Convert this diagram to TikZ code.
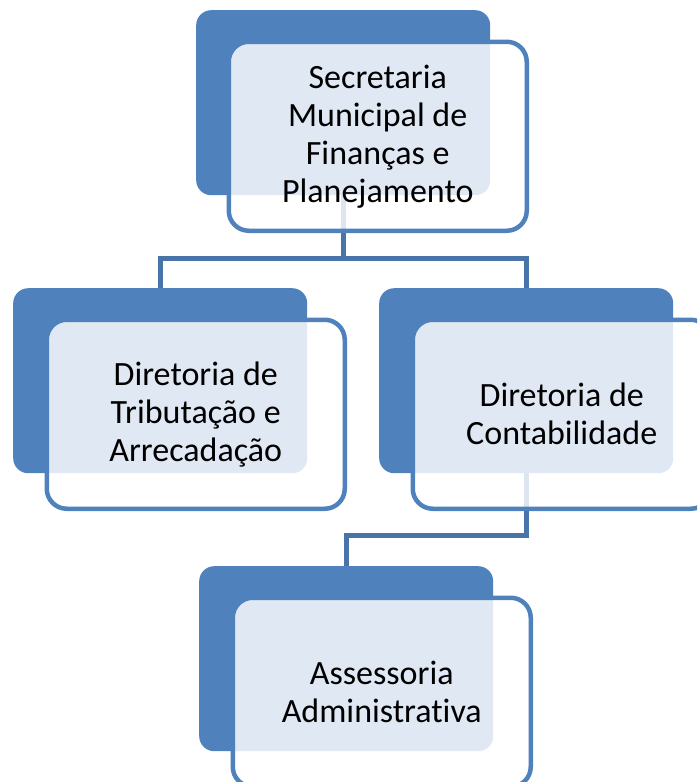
\documentclass[tikz,border=0pt]{standalone}
\usepackage{fontspec}
\setmainfont[Ligatures=NoCommon]{Carlito}
\definecolor{officeblue}{HTML}{4F81BD}
\definecolor{connblue}{HTML}{4874AA}
\begin{document}
\begin{tikzpicture}[x=1pt,y=-1pt,
  backbox/.style={fill=officeblue, draw=none, rounded corners=15pt, anchor=north west,
    minimum width=294pt, minimum height=185pt, inner sep=0pt},
  frontbox/.style={draw=officeblue, line width=4.5pt, fill=white, fill opacity=0.82, text opacity=1,
    rounded corners=20pt, anchor=north west, minimum width=298pt, minimum height=189pt,
    inner sep=0pt, align=center, font=\fontsize{34}{38}\selectfont, text=black},
  conn/.style={draw=connblue, line width=5pt, line join=miter}]
\useasboundingbox (0,0) rectangle (697,782);
\clip (0,0) rectangle (697,782);
\coordinate (j1) at (0,258);
\coordinate (j2) at (0,535);
% back boxes
\node[backbox] (b1) at (196,10) {};
\node[backbox] (b2) at (13,288) {};
\node[backbox] (b3) at (379,288) {};
\node[backbox] (b4) at (199,566) {};
% connectors
\draw[conn] (b1.south) -- (b1.south |- j1);
\draw[conn] (b2.north) -- (b2.north |- j1) -- (b3.north |- j1) -- (b3.north);
\draw[conn] (b3.south) -- (b3.south |- j2) -- (b4.north |- j2) -- (b4.north);
% front boxes
\node[frontbox] (f1) at (226.5,39.5) {Secretaria\\Municipal de\\Finanças e\\Planejamento};
\node[frontbox] (f2) at (44.5,317.5) {Diretoria de\\Tributação e\\Arrecadação};
\node[frontbox] (f3) at (410.5,317.5) {Diretoria de\\Contabilidade};
\node[frontbox] (f4) at (230.5,595.5) {Assessoria\\Administrativa};
\end{tikzpicture}
\end{document}
